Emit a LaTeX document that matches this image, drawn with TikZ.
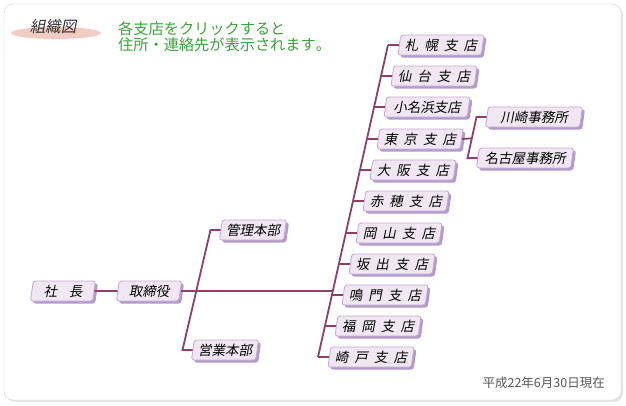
\documentclass[tikz,border=0pt]{standalone}
\usepackage{fontspec}
\setmainfont[Kerning=Off]{Noto Sans CJK JP}
\newfontfamily\jpslant[FakeSlant=0.2,WordSpace=2,Kerning=Off]{Noto Sans CJK JP}
\usetikzlibrary{shapes.geometric,shadows,calc}

\definecolor{boxfill}{HTML}{F1E7F3}
\definecolor{boxline}{HTML}{C2A9D6}
\definecolor{boxshade}{HTML}{B39BC9}
\definecolor{linkline}{HTML}{8E3F6A}
\definecolor{notegreen}{HTML}{3BA33B}
\definecolor{titlepink}{HTML}{F2CBC3}

\tikzset{
  unit/.style={trapezium,trapezium left angle=79,trapezium right angle=101,trapezium stretches body,
    draw=boxline,line width=0.8pt,fill=boxfill,rounded corners=2.5pt,minimum height=20pt,minimum width=#1,
    inner sep=1pt,font=\jpslant\fontsize{13.5}{14}\selectfont,
    drop shadow={shadow xshift=2.5pt,shadow yshift=-2.5pt,fill=boxshade,opacity=1}},
  unit/.default=86pt,
  link/.style={draw=linkline,line width=1.8pt},
}

\begin{document}
\begin{tikzpicture}[x=1pt,y=-1pt]
\useasboundingbox (0,0) rectangle (626,405);
% frame
\fill[gray!20,rounded corners=9pt] (6,6) rectangle (623,402);
\draw[gray!35,fill=white,rounded corners=9pt] (4,4) rectangle (621,400);
% heading
\node[ellipse,fill=titlepink,minimum width=90pt,minimum height=12pt,inner sep=0pt] (ttlbg) at (56,33) {};
\node[font=\jpslant\fontsize{15.5}{16}\selectfont,text=black!80] (ttl) at (53,27) {組織図};
\node[font=\fontsize{15.2}{16.5}\selectfont,text=notegreen,align=left,anchor=north west,inner sep=0pt] (note) at (118,21) {各支店をクリックすると\\住所・連絡先が表示されます。};
\node[font=\fontsize{12.5}{13}\selectfont,text=black!65,anchor=east,inner sep=0pt] (date) at (605,383) {平成22年6月30日現在};

% top
\node[unit=65pt] (p) at (63,291) {社\hspace{12pt}長};
\node[unit=65pt] (t) at (149,291) {取締役};
\node[unit=67pt] (d0) at (253,230) {管理本部};
\node[unit=67pt] (d1) at (225,350) {営業本部};

% branches
\node[unit] (b0) at (441,45) {札 幌 支 店};
\node[unit] (b1) at (434,76) {仙 台 支 店};
\node[unit] (b2) at (427,107) {小名浜支店};
\node[unit] (b3) at (420,139) {東 京 支 店};
\node[unit] (b4) at (413,170) {大 阪 支 店};
\node[unit] (b5) at (406,201) {赤 穂 支 店};
\node[unit] (b6) at (399,233) {岡 山 支 店};
\node[unit] (b7) at (392,264) {坂 出 支 店};
\node[unit] (b8) at (385,295) {鳴 門 支 店};
\node[unit] (b9) at (378,326) {福 岡 支 店};
\node[unit] (b10) at (371,357) {崎 戸 支 店};
\node[unit=97pt] (s0) at (534,117) {川崎事務所};
\node[unit=97pt] (s1) at (525,158) {名古屋事務所};

% connectors
\draw[link] (p.east) -- (t.west);
\draw[link] (d0.west) -- ++(-10,0) coordinate (d0k) -- ($(d1.west)+(-10,0)$) coordinate (d1k) -- (d1.west);
\coordinate (trtop) at ($(b0.west)+(-11,0)$);
\coordinate (trbot) at ($(b10.west)+(-11,0)$);
\draw[link] (trtop) -- (trbot);
\foreach \b in {b0,b1,b2,b3,b4,b5,b6,b7,b8,b9,b10}
  \draw[link] (\b.west) -- ++(-11,0);
\coordinate (tj) at ($(trtop)!0.788!(trbot)$);
\draw[link] (t.east) -- (t.east -| tj);
\draw[link] (s0.west) -- ++(-10,0) coordinate (s0k) -- ($(s1.west)+(-10,0)$) coordinate (s1k) -- (s1.west);
\draw[link] (b3.east) -- ($(s0k)!0.52!(s1k)$);
\end{tikzpicture}
\end{document}
